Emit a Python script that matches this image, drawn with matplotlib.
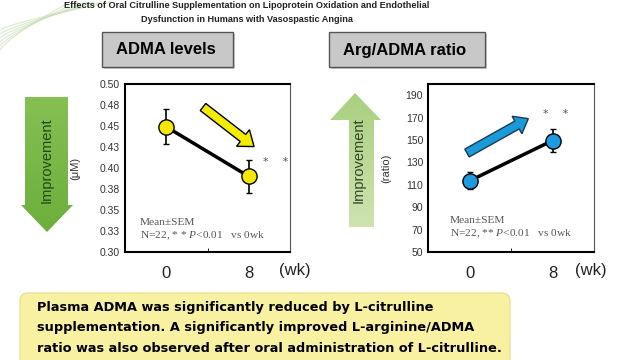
import numpy as np
import matplotlib
matplotlib.use('Agg')
import matplotlib.pyplot as plt
from matplotlib.patches import Polygon, FancyArrow, FancyBboxPatch, Rectangle

plt.rcParams['mathtext.fontset'] = 'custom'
plt.rcParams['mathtext.rm'] = 'Liberation Serif'
plt.rcParams['mathtext.it'] = 'Liberation Serif:italic'

# Data
weeks = [0, 8]
adma_mean = [0.449, 0.390]
adma_sem = [0.021, 0.020]
ratio_mean = [113.5, 149.5]
ratio_sem = [7.5, 10.0]

adma_ticks = [0.300, 0.325, 0.350, 0.375, 0.400, 0.425, 0.450, 0.475, 0.500]
adma_labels = ['0.30', '0.33', '0.35', '0.38', '0.40', '0.43', '0.45', '0.48', '0.50']
ratio_ticks = [50, 70, 90, 110, 130, 150, 170, 190]

title_lines = ['Effects of Oral Citrulline Supplementation on Lipoprotein Oxidation and Endothelial',
               'Dysfunction in Humans with Vasospastic Angina']
summary_lines = ['Plasma ADMA was significantly reduced by L-citrulline',
                 'supplementation. A significantly improved L-arginine/ADMA',
                 'ratio was also observed after oral administration of L-citrulline.']

fig = plt.figure(figsize=(6.4, 3.6), dpi=100)
fig.patch.set_facecolor('white')

# background overlay in pixel coordinates (y down)
bg = fig.add_axes([0, 0, 1, 1], zorder=0)
bg.set_xlim(0, 640)
bg.set_ylim(360, 0)
bg.axis('off')

# decorative swoosh top-left
for i in range(6):
    xs = np.linspace(0, 110 - i * 8, 40)
    ys = (30 + i * 4) - (xs / (110 - i * 8)) ** 0.8 * (28 + i * 4)
    bg.plot(xs, ys, color='#c4dcae', lw=0.9, alpha=0.55)

for i, line in enumerate(title_lines):
    bg.text(247, 6 + i * 13, line, ha='center', va='center', fontsize=6.6,
            fontweight='bold', family='Liberation Sans', color='#222222')

# title boxes
for (x0, x1, label) in [(102, 233, 'ADMA levels'), (329, 485, 'Arg/ADMA ratio')]:
    bg.add_patch(Rectangle((x0 + 2, 34), x1 - x0, 35, facecolor='#9a9a9a', edgecolor='none', alpha=0.5))
    bg.add_patch(Rectangle((x0, 32), x1 - x0, 35, facecolor='#c8c8c8', edgecolor='#555555', lw=1.0))
    bg.text((x0 + x1) / 2 - 2, 50, label, ha='center', va='center', fontsize=12,
            fontweight='bold', family='Liberation Sans', color='black')

# improvement arrows with gradient
def grad_arrow(poly, c_top, c_bot):
    p = Polygon(poly, closed=True, facecolor='none', edgecolor='none')
    bg.add_patch(p)
    xs = [q[0] for q in poly]
    ys = [q[1] for q in poly]
    g = np.linspace(0, 1, 100)[:, None]
    ct = np.array(matplotlib.colors.to_rgb(c_top))
    cb = np.array(matplotlib.colors.to_rgb(c_bot))
    img = ct[None, None, :] * (1 - g[:, :, None]) + cb[None, None, :] * g[:, :, None]
    im = bg.imshow(img, extent=[min(xs), max(xs), max(ys), min(ys)], aspect='auto', zorder=1)
    im.set_clip_path(p)

grad_arrow([(25, 97), (68, 97), (68, 205), (73, 205), (47, 232), (21, 205), (25, 205)],
           '#86c052', '#6cae3c')
grad_arrow([(349, 227), (374, 227), (374, 120), (381, 120), (355, 93), (330, 120), (349, 120)],
           '#a9d07e', '#cfe3b0')
bg.set_xlim(0, 640)
bg.set_ylim(360, 0)
bg.text(47, 160, 'Improvement', rotation=90, ha='center', va='center', fontsize=10.5,
        family='Liberation Sans', color='#1f4a12', zorder=2)
bg.text(359, 160, 'Improvement', rotation=90, ha='center', va='center', fontsize=10.5,
        family='Liberation Sans', color='#34432a', zorder=2)

# summary box
bg.add_patch(FancyBboxPatch((20, 293), 490, 80, boxstyle='round,pad=0,rounding_size=8',
                            facecolor='#f8f1a2', edgecolor='#e6dc8a', lw=0.8, zorder=1))
for i, line in enumerate(summary_lines):
    bg.text(37, 307 + i * 20.5, line, ha='left', va='center', fontsize=9.3,
            fontweight='bold', family='DejaVu Sans', color='black', zorder=2)


def style_axes(ax, wk_x):
    ax.set_xlim(-4, 12)
    ax.set_xticks(weeks)
    ax.set_xticklabels([str(w) for w in weeks], fontsize=12, family='Liberation Sans', color='#222222')
    ax.tick_params(axis='x', length=0, pad=10)
    ax.set_xticks([4], minor=True)
    ax.tick_params(axis='x', which='minor', direction='in', length=3)
    ax.tick_params(axis='y', length=0, labelsize=7.5, labelcolor='#333333')
    for lab in ax.get_yticklabels():
        lab.set_family('Liberation Sans')
    for s in ['left', 'top', 'bottom']:
        ax.spines[s].set_linewidth(1.5)
    ax.spines['right'].set_linewidth(0.8)
    ax.spines['right'].set_color('#555555')
    ax.text(wk_x, -0.11, '(wk)', transform=ax.transAxes, fontsize=12,
            family='Liberation Sans', color='#222222', va='center', ha='left')


# left panel: ADMA
ax1 = fig.add_axes([125 / 640, 108 / 360, 165 / 640, 168 / 360], zorder=1)
ax1.set_facecolor('white')
ax1.set_ylim(0.30, 0.50)
ax1.set_yticks(adma_ticks)
ax1.set_yticklabels(adma_labels)
ax1.errorbar(weeks, adma_mean, yerr=adma_sem, color='black', lw=2.5, elinewidth=1.2,
             capsize=2.5, capthick=1.2, marker='o', ms=11, mfc='#f6e600', mec='black', mew=1.0)
ax1.set_ylabel('(μM)', fontsize=8, family='Liberation Sans', color='#333333', labelpad=14)
style_axes(ax1, 0.935)
ax1.text(0.09, 0.16, 'Mean±SEM', transform=ax1.transAxes, fontsize=8.2,
         family='Liberation Serif', color='#555555')
ax1.text(0.09, 0.08, 'N=22, * * $\\it{P}$<0.01   vs 0wk', transform=ax1.transAxes, fontsize=8.2,
         family='Liberation Serif', color='#555555')
ax1.text(0.91, 0.536, '*    *', transform=ax1.transAxes, fontsize=8, color='#555555', ha='center', va='center')

# right panel: Arg/ADMA ratio
ax2 = fig.add_axes([428 / 640, 108 / 360, 166 / 640, 168 / 360], zorder=1)
ax2.set_facecolor('white')
ax2.set_ylim(50, 200)
ax2.set_yticks(ratio_ticks)
ax2.errorbar(weeks, ratio_mean, yerr=ratio_sem, color='black', lw=2.5, elinewidth=1.2,
             capsize=2.5, capthick=1.2, marker='o', ms=11, mfc='#1e9be0', mec='black', mew=1.0)
ax2.set_ylabel('(ratio)', fontsize=8, family='Liberation Sans', color='#333333', labelpad=10)
style_axes(ax2, 0.885)
ax2.text(0.13, 0.175, 'Mean±SEM', transform=ax2.transAxes, fontsize=8.2,
         family='Liberation Serif', color='#555555')
ax2.text(0.13, 0.095, 'N=22, ** $\\it{P}$<0.01   vs 0wk', transform=ax2.transAxes, fontsize=8.2,
         family='Liberation Serif', color='#555555')
ax2.text(0.77, 0.82, '*    *', transform=ax2.transAxes, fontsize=8, color='#555555', ha='center', va='center')

# trend arrows on top
fg = fig.add_axes([0, 0, 1, 1], zorder=3)
fg.set_xlim(0, 640)
fg.set_ylim(360, 0)
fg.axis('off')
fg.patch.set_alpha(0)
fg.add_patch(FancyArrow(203, 107, 40, 31, width=9, head_width=21, head_length=14,
                        length_includes_head=False, facecolor='#f4ec00', edgecolor='black', lw=1.0))
fg.add_patch(FancyArrow(467, 153, 50, -28, width=9, head_width=20, head_length=13,
                        length_includes_head=False, facecolor='#1a9ad6', edgecolor='#1a3a5a', lw=1.0))

fig.savefig('out.png', dpi=100)
